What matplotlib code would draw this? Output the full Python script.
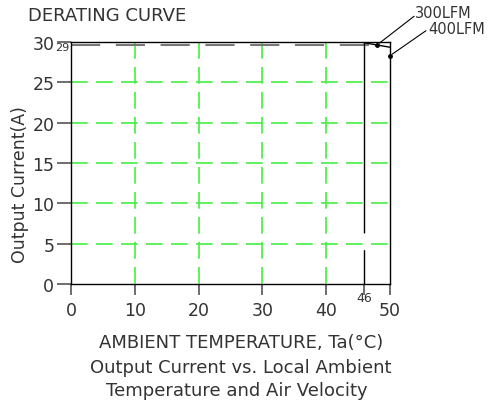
import numpy as np
import matplotlib
matplotlib.use('Agg')
import matplotlib.pyplot as plt

# values
x_ticks = [0, 10, 20, 30, 40, 50]
y_ticks = [0, 5, 10, 15, 20, 25, 30]
grid_x = [10, 20, 30, 40]
grid_y = [5, 10, 15, 20, 25]
derate_t = 46          # temperature where derating starts
i_max = 29.6           # "29" level line

# 300LFM curve: flat then drops slightly after 46C
lfm300_t = [46, 50]
lfm300_i = [29.9, 29.35]
# 400LFM curve: flat at full current
lfm400_t = [0, 50]
lfm400_i = [30, 30]

plt.rcParams['font.family'] = ['DejaVu Sans']
txt = '#333333'
fig = plt.figure(figsize=(4.97, 4.06), dpi=100)
ax = fig.add_axes([71/497, 121/406, 319/497, 242/406])

green = '#44ee44'
for gx in grid_x:
    ax.plot([gx, gx], [30, 0], color=green, lw=1.2, dashes=(10, 5), zorder=1)
for gy in grid_y:
    ax.plot([0, 50], [gy, gy], color=green, lw=1.2, dashes=(10, 5), zorder=1)

# 29 level (gray dashed)
ax.plot([0, derate_t + 1.5], [i_max, i_max], color='#777777', lw=1.5, dashes=(14, 7.5), zorder=2)
# vertical line at 46C, drawn top to bottom
ax.plot([derate_t, derate_t], [30, 0], color='black', lw=1.0, dashes=(137.5, 12), zorder=3)

ax.plot(lfm300_t, lfm300_i, color='black', lw=1.0, zorder=4)
ax.plot(lfm400_t, lfm400_i, color='black', lw=1.2, zorder=4)

ax.set_xlim(0, 50)
ax.set_ylim(0, 30)
ax.set_xticks(x_ticks + [derate_t])
ax.set_xticklabels([str(v) for v in x_ticks] + [''])
ax.set_yticks(y_ticks)
ax.tick_params(axis='both', colors='#555555', labelcolor=txt, width=1.2,
               labelsize=12.5)
ax.tick_params(axis='x', length=8, pad=4)
ax.tick_params(axis='y', length=10, pad=2)
for s in ax.spines.values():
    s.set_color('black')
    s.set_linewidth(1.0)

ax.text(derate_t, -0.9, '46', ha='center', va='top', fontsize=9, color=txt)
ax.text(-0.3, 30, '29', ha='right', va='top', fontsize=8, color=txt)

# leaders for the curve labels
ax.plot([48], [29.65], 'o', color='black', ms=2.5, zorder=5, clip_on=False)
ax.annotate('', xy=(48, 29.65), xytext=(344/6.38 + 0.2, 33.4),
            arrowprops=dict(arrowstyle='-', color='black', lw=0.8), annotation_clip=False)
ax.plot([50], [28.3], 'o', color='black', ms=2.5, zorder=5, clip_on=False)
ax.annotate('', xy=(50, 28.3), xytext=(356/6.38 + 0.2, 31.6),
            arrowprops=dict(arrowstyle='-', color='black', lw=0.8), annotation_clip=False)
fig.text(415/497, 1 - 14/406, '300LFM', fontsize=10.5, va='center', ha='left', color=txt)
fig.text(428/497, 1 - 29/406, '400LFM', fontsize=10.5, va='center', ha='left', color=txt)

fig.text(28/497, 1 - 16/406, 'DERATING CURVE', fontsize=13, va='center', ha='left', color=txt)
fig.text(20/497, 1 - 185/406, 'Output Current(A)', fontsize=12.5, rotation=90,
         va='center', ha='center', color=txt)

fig.text(241/497, 1 - 343/406, 'AMBIENT TEMPERATURE, Ta(°C)', fontsize=13, ha='center', va='center', color=txt)
fig.text(241/497, 1 - 368/406, 'Output Current vs. Local Ambient', fontsize=13, ha='center', va='center', color=txt)
fig.text(237/497, 1 - 391/406, 'Temperature and Air Velocity', fontsize=13, ha='center', va='center', color=txt)

fig.savefig('out.png', dpi=100)
